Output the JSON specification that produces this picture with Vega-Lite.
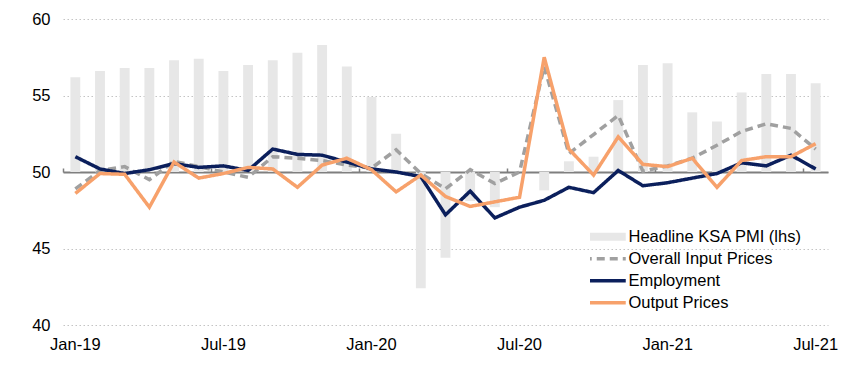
{
  "$schema": "https://vega.github.io/schema/vega-lite/v6.json",
  "width": 765,
  "height": 306,
  "autosize": {"type": "none"},
  "padding": {"left": 63, "top": 19, "right": 27, "bottom": 50},
  "background": "white",
  "config": {
    "font": "Liberation Sans",
    "view": {"stroke": null},
    "axis": {"labelFont": "Liberation Sans", "labelFontSize": 16.5, "labelColor": "#000000"},
    "legend": {"labelFont": "Liberation Sans"}
  },
  "datasets": {
    "pmi": [
      {"month": "Jan-19", "pmi": 56.2}, {"month": "Feb-19", "pmi": 56.6}, {"month": "Mar-19", "pmi": 56.8},
      {"month": "Apr-19", "pmi": 56.8}, {"month": "May-19", "pmi": 57.3}, {"month": "Jun-19", "pmi": 57.4},
      {"month": "Jul-19", "pmi": 56.6}, {"month": "Aug-19", "pmi": 57.0}, {"month": "Sep-19", "pmi": 57.3},
      {"month": "Oct-19", "pmi": 57.8}, {"month": "Nov-19", "pmi": 58.3}, {"month": "Dec-19", "pmi": 56.9},
      {"month": "Jan-20", "pmi": 54.9}, {"month": "Feb-20", "pmi": 52.5}, {"month": "Mar-20", "pmi": 42.4},
      {"month": "Apr-20", "pmi": 44.4}, {"month": "May-20", "pmi": 48.1}, {"month": "Jun-20", "pmi": 47.7},
      {"month": "Jul-20", "pmi": 50.0}, {"month": "Aug-20", "pmi": 48.8}, {"month": "Sep-20", "pmi": 50.7},
      {"month": "Oct-20", "pmi": 51.0}, {"month": "Nov-20", "pmi": 54.7}, {"month": "Dec-20", "pmi": 57.0},
      {"month": "Jan-21", "pmi": 57.1}, {"month": "Feb-21", "pmi": 53.9}, {"month": "Mar-21", "pmi": 53.3},
      {"month": "Apr-21", "pmi": 55.2}, {"month": "May-21", "pmi": 56.4}, {"month": "Jun-21", "pmi": 56.4},
      {"month": "Jul-21", "pmi": 55.8}
    ],
    "lines": [
      {"month": "Jan-19", "series": "Overall Input Prices", "value": 48.9},
      {"month": "Feb-19", "series": "Overall Input Prices", "value": 50.1},
      {"month": "Mar-19", "series": "Overall Input Prices", "value": 50.35},
      {"month": "Apr-19", "series": "Overall Input Prices", "value": 49.5},
      {"month": "May-19", "series": "Overall Input Prices", "value": 50.7},
      {"month": "Jun-19", "series": "Overall Input Prices", "value": 50.35},
      {"month": "Jul-19", "series": "Overall Input Prices", "value": 50.0},
      {"month": "Aug-19", "series": "Overall Input Prices", "value": 49.65},
      {"month": "Sep-19", "series": "Overall Input Prices", "value": 51.0},
      {"month": "Oct-19", "series": "Overall Input Prices", "value": 50.9},
      {"month": "Nov-19", "series": "Overall Input Prices", "value": 50.75},
      {"month": "Dec-19", "series": "Overall Input Prices", "value": 50.45},
      {"month": "Jan-20", "series": "Overall Input Prices", "value": 50.25},
      {"month": "Feb-20", "series": "Overall Input Prices", "value": 51.45},
      {"month": "Mar-20", "series": "Overall Input Prices", "value": 49.9},
      {"month": "Apr-20", "series": "Overall Input Prices", "value": 48.9},
      {"month": "May-20", "series": "Overall Input Prices", "value": 50.15},
      {"month": "Jun-20", "series": "Overall Input Prices", "value": 49.25},
      {"month": "Jul-20", "series": "Overall Input Prices", "value": 50.0},
      {"month": "Aug-20", "series": "Overall Input Prices", "value": 56.9},
      {"month": "Sep-20", "series": "Overall Input Prices", "value": 51.2},
      {"month": "Oct-20", "series": "Overall Input Prices", "value": 52.45},
      {"month": "Nov-20", "series": "Overall Input Prices", "value": 53.7},
      {"month": "Dec-20", "series": "Overall Input Prices", "value": 50.05},
      {"month": "Jan-21", "series": "Overall Input Prices", "value": 50.4},
      {"month": "Feb-21", "series": "Overall Input Prices", "value": 50.9},
      {"month": "Mar-21", "series": "Overall Input Prices", "value": 51.75},
      {"month": "Apr-21", "series": "Overall Input Prices", "value": 52.65},
      {"month": "May-21", "series": "Overall Input Prices", "value": 53.15},
      {"month": "Jun-21", "series": "Overall Input Prices", "value": 52.85},
      {"month": "Jul-21", "series": "Overall Input Prices", "value": 51.5},
      {"month": "Jan-19", "series": "Employment", "value": 51.0},
      {"month": "Feb-19", "series": "Employment", "value": 50.2},
      {"month": "Mar-19", "series": "Employment", "value": 49.9},
      {"month": "Apr-19", "series": "Employment", "value": 50.15},
      {"month": "May-19", "series": "Employment", "value": 50.55},
      {"month": "Jun-19", "series": "Employment", "value": 50.3},
      {"month": "Jul-19", "series": "Employment", "value": 50.4},
      {"month": "Aug-19", "series": "Employment", "value": 50.1},
      {"month": "Sep-19", "series": "Employment", "value": 51.5},
      {"month": "Oct-19", "series": "Employment", "value": 51.15},
      {"month": "Nov-19", "series": "Employment", "value": 51.1},
      {"month": "Dec-19", "series": "Employment", "value": 50.65},
      {"month": "Jan-20", "series": "Employment", "value": 50.2},
      {"month": "Feb-20", "series": "Employment", "value": 50.0},
      {"month": "Mar-20", "series": "Employment", "value": 49.7},
      {"month": "Apr-20", "series": "Employment", "value": 47.2},
      {"month": "May-20", "series": "Employment", "value": 48.75},
      {"month": "Jun-20", "series": "Employment", "value": 47.0},
      {"month": "Jul-20", "series": "Employment", "value": 47.7},
      {"month": "Aug-20", "series": "Employment", "value": 48.15},
      {"month": "Sep-20", "series": "Employment", "value": 49.0},
      {"month": "Oct-20", "series": "Employment", "value": 48.65},
      {"month": "Nov-20", "series": "Employment", "value": 50.1},
      {"month": "Dec-20", "series": "Employment", "value": 49.1},
      {"month": "Jan-21", "series": "Employment", "value": 49.3},
      {"month": "Feb-21", "series": "Employment", "value": 49.6},
      {"month": "Mar-21", "series": "Employment", "value": 49.9},
      {"month": "Apr-21", "series": "Employment", "value": 50.6},
      {"month": "May-21", "series": "Employment", "value": 50.4},
      {"month": "Jun-21", "series": "Employment", "value": 51.1},
      {"month": "Jul-21", "series": "Employment", "value": 50.2},
      {"month": "Jan-19", "series": "Output Prices", "value": 48.6},
      {"month": "Feb-19", "series": "Output Prices", "value": 49.9},
      {"month": "Mar-19", "series": "Output Prices", "value": 49.85},
      {"month": "Apr-19", "series": "Output Prices", "value": 47.7},
      {"month": "May-19", "series": "Output Prices", "value": 50.65},
      {"month": "Jun-19", "series": "Output Prices", "value": 49.6},
      {"month": "Jul-19", "series": "Output Prices", "value": 49.9},
      {"month": "Aug-19", "series": "Output Prices", "value": 50.3},
      {"month": "Sep-19", "series": "Output Prices", "value": 50.2},
      {"month": "Oct-19", "series": "Output Prices", "value": 49.0},
      {"month": "Nov-19", "series": "Output Prices", "value": 50.45},
      {"month": "Dec-19", "series": "Output Prices", "value": 50.9},
      {"month": "Jan-20", "series": "Output Prices", "value": 50.15},
      {"month": "Feb-20", "series": "Output Prices", "value": 48.7},
      {"month": "Mar-20", "series": "Output Prices", "value": 49.8},
      {"month": "Apr-20", "series": "Output Prices", "value": 48.4},
      {"month": "May-20", "series": "Output Prices", "value": 47.75},
      {"month": "Jun-20", "series": "Output Prices", "value": 48.05},
      {"month": "Jul-20", "series": "Output Prices", "value": 48.35},
      {"month": "Aug-20", "series": "Output Prices", "value": 57.5},
      {"month": "Sep-20", "series": "Output Prices", "value": 51.5},
      {"month": "Oct-20", "series": "Output Prices", "value": 49.8},
      {"month": "Nov-20", "series": "Output Prices", "value": 52.3},
      {"month": "Dec-20", "series": "Output Prices", "value": 50.5},
      {"month": "Jan-21", "series": "Output Prices", "value": 50.35},
      {"month": "Feb-21", "series": "Output Prices", "value": 50.9},
      {"month": "Mar-21", "series": "Output Prices", "value": 49.0},
      {"month": "Apr-21", "series": "Output Prices", "value": 50.75},
      {"month": "May-21", "series": "Output Prices", "value": 51.0},
      {"month": "Jun-21", "series": "Output Prices", "value": 51.0},
      {"month": "Jul-21", "series": "Output Prices", "value": 51.85}
    ]
  },
  "resolve": {"axis": {"x": "independent"}},
  "layer": [
    {
      "data": {"name": "pmi"},
      "mark": {"type": "bar", "color": "#e7e7e7"},
      "encoding": {
        "x": {
          "field": "month", "type": "ordinal", "title": null,
          "scale": {
            "domain": ["Jan-19","Feb-19","Mar-19","Apr-19","May-19","Jun-19","Jul-19","Aug-19","Sep-19","Oct-19","Nov-19","Dec-19","Jan-20","Feb-20","Mar-20","Apr-20","May-20","Jun-20","Jul-20","Aug-20","Sep-20","Oct-20","Nov-20","Dec-20","Jan-21","Feb-21","Mar-21","Apr-21","May-21","Jun-21","Jul-21"],
            "paddingInner": 0.6, "paddingOuter": 0.3
          },
          "axis": {
            "orient": "bottom",
            "values": ["Jan-19","Jul-19","Jan-20","Jul-20","Jan-21","Jul-21"],
            "domain": false, "ticks": false, "grid": false,
            "labelAngle": 0, "labelPadding": 11, "labelFontSize": 16.5
          }
        },
        "y": {
          "field": "pmi", "type": "quantitative", "title": null,
          "scale": {"domain": [40, 60], "nice": false, "zero": false},
          "axis": {
            "values": [40, 45, 50, 55, 60],
            "domain": false, "ticks": false, "grid": true,
            "gridDash": [1.5, 2.5], "gridColor": "#c4c4c4", "gridWidth": 1.2,
            "labelPadding": 13, "labelFontSize": 16.5
          }
        },
        "y2": {"datum": 50},
        "color": {
          "datum": "Headline KSA PMI (lhs)",
          "type": "nominal",
          "title": null,
          "scale": {
            "domain": ["Headline KSA PMI (lhs)", "Overall Input Prices", "Employment", "Output Prices"],
            "range": ["#e7e7e7", "#a0a0a0", "#0b1f5c", "#f7a16b"]
          },
          "legend": {
            "orient": "none", "legendX": 527, "legendY": 207,
            "title": null, "padding": 0,
            "symbolType": "stroke", "symbolSize": 3025, "symbolStrokeWidth": 3.5,
            "labelFontSize": 16.5, "labelColor": "#000000", "labelOffset": 22, "labelLimit": 400,
            "clipHeight": 21.3, "rowPadding": 0,
            "encode": {
              "symbols": {
                "update": {
                  "stroke": {"scale": "color", "field": "value"},
                  "strokeWidth": {"signal": "datum.value === 'Headline KSA PMI (lhs)' ? 8 : 3.5"},
                  "strokeDash": {"signal": "datum.value === 'Overall Input Prices' ? [8, 5] : [1, 0]"},
                  "opacity": {"value": 1}
                }
              }
            }
          }
        }
      }
    },
    {
      "data": {"name": "lines"},
      "mark": {"type": "line", "strokeWidth": 3.5},
      "encoding": {
        "x": {
          "field": "month", "type": "ordinal", "title": null,
          "axis": {
            "orient": "top", "offset": -153,
            "values": ["Jan-19","Jul-19","Jan-20","Jul-20","Jan-21","Jul-21"],
            "bandPosition": -0.75,
            "labels": false, "grid": false,
            "domain": true, "domainColor": "#7f7f7f", "domainWidth": 2,
            "ticks": true, "tickColor": "#7f7f7f", "tickWidth": 1.5, "tickSize": 4
          }
        },
        "y": {"field": "value", "type": "quantitative", "title": null},
        "color": {"field": "series", "type": "nominal", "title": null},
        "strokeDash": {
          "field": "series", "type": "nominal", "legend": null,
          "scale": {
            "domain": ["Overall Input Prices", "Employment", "Output Prices"],
            "range": [[8, 5], [1, 0], [1, 0]]
          }
        }
      }
    }
  ]
}
